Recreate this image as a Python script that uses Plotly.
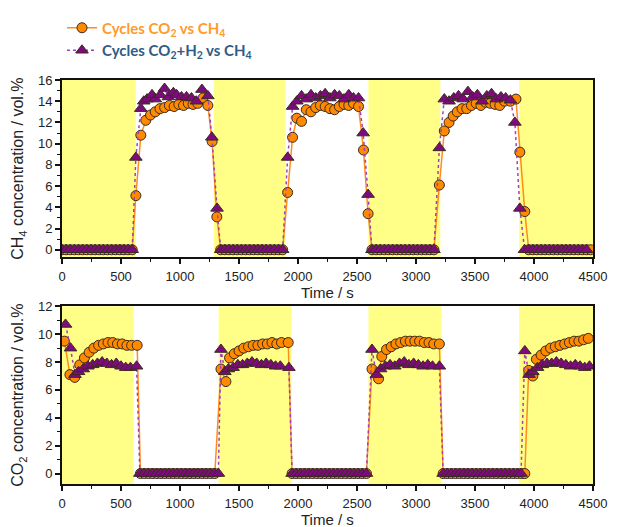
import plotly.graph_objects as go
from plotly.subplots import make_subplots

# ---------------- data ----------------
# CH4 concentration, "Cycles CO2 vs CH4"
ch4_a_t = [0, 35, 70, 105, 140, 175, 210, 245, 280, 315, 350, 385, 420, 455, 490, 525, 560, 595,
           626, 668, 710, 750, 790, 830, 870, 910, 950, 990, 1030, 1070, 1110, 1150, 1195, 1236, 1272, 1312,
           1345, 1380, 1415, 1450, 1485, 1520, 1555, 1590, 1625, 1660, 1695, 1730, 1765, 1800, 1835, 1870,
           1912, 1954, 1990, 2030, 2070, 2110, 2150, 2190, 2230, 2270, 2310, 2350, 2390, 2430, 2470, 2513, 2555, 2594,
           2627, 2662, 2697, 2732, 2767, 2802, 2837, 2872, 2907, 2942, 2977, 3012, 3047, 3082, 3117, 3152,
           3198, 3240, 3280, 3315, 3350, 3390, 3430, 3470, 3510, 3550, 3590, 3630, 3670, 3710, 3750, 3800, 3847, 3880, 3922,
           3955, 3990, 4025, 4060, 4095, 4130, 4165, 4200, 4235, 4270, 4305, 4340, 4375, 4410, 4445, 4480]
ch4_a_v = [0, 0, 0, 0, 0, 0, 0, 0, 0, 0, 0, 0, 0, 0, 0, 0, 0, 0,
           5.1, 10.8, 12.2, 12.7, 13.0, 13.3, 13.4, 13.6, 13.5, 13.7, 13.6, 13.8, 13.7, 13.8, 14.3, 13.6, 10.2, 3.1,
           0, 0, 0, 0, 0, 0, 0, 0, 0, 0, 0, 0, 0, 0, 0, 0,
           5.4, 10.6, 12.4, 12.1, 13.2, 13.0, 13.4, 13.6, 13.5, 13.3, 13.2, 13.5, 13.7, 13.6, 13.8, 13.5, 9.4, 3.4,
           0, 0, 0, 0, 0, 0, 0, 0, 0, 0, 0, 0, 0, 0, 0, 0,
           6.1, 11.2, 12.0, 12.6, 13.0, 13.3, 13.3, 13.6, 13.8, 13.6, 13.9, 13.8, 13.7, 13.6, 14.0, 14.0, 14.2, 9.2, 3.6,
           0, 0, 0, 0, 0, 0, 0, 0, 0, 0, 0, 0, 0, 0, 0, 0]

# CH4 concentration, "Cycles CO2+H2 vs CH4"
ch4_b_t = [0, 35, 70, 105, 140, 175, 210, 245, 280, 315, 350, 385, 420, 455, 490, 525, 560, 595,
           626, 668, 693, 721, 763, 791, 833, 869, 902, 944, 971, 1013, 1055, 1097, 1138, 1186, 1236, 1270, 1314,
           1345, 1380, 1415, 1450, 1485, 1520, 1555, 1590, 1625, 1660, 1695, 1730, 1765, 1800, 1835, 1870,
           1912, 1954, 1990, 2030, 2070, 2110, 2150, 2190, 2230, 2270, 2310, 2350, 2390, 2430, 2470, 2513, 2552, 2594,
           2627, 2662, 2697, 2732, 2767, 2802, 2837, 2872, 2907, 2942, 2977, 3012, 3047, 3082, 3117, 3152,
           3198, 3240, 3280, 3320, 3360, 3400, 3440, 3480, 3520, 3560, 3600, 3640, 3680, 3720, 3760, 3800, 3838, 3880,
           3920, 3955, 3990, 4025, 4060, 4095, 4130, 4165, 4200, 4235, 4270, 4305, 4340, 4375, 4410, 4445]
ch4_b_v = [0, 0, 0, 0, 0, 0, 0, 0, 0, 0, 0, 0, 0, 0, 0, 0, 0, 0,
           8.7, 13.3, 14.0, 14.2, 14.6, 14.2, 14.6, 15.2, 14.4, 14.8, 14.6, 14.4, 14.4, 14.3, 14.0, 15.1, 14.5, 10.6, 3.9,
           0, 0, 0, 0, 0, 0, 0, 0, 0, 0, 0, 0, 0, 0, 0, 0,
           8.7, 13.5, 14.0, 14.5, 14.2, 14.6, 14.3, 14.5, 14.7, 14.3, 14.6, 14.5, 14.2, 14.6, 14.3, 14.3, 11.0, 5.2,
           0, 0, 0, 0, 0, 0, 0, 0, 0, 0, 0, 0, 0, 0, 0, 0,
           9.6, 14.2, 14.0, 14.3, 14.5, 14.2, 14.9, 14.4, 14.6, 14.0, 14.5, 14.7, 14.2, 14.4, 14.3, 14.1, 12.0, 3.9,
           0, 0, 0, 0, 0, 0, 0, 0, 0, 0, 0, 0, 0, 0, 0, 0]

# CO2 concentration, "Cycles CO2 vs CH4"
co2_a_t = [20, 67, 108, 150, 190, 230, 270, 310, 350, 390, 430, 470, 510, 550, 590, 637,
           665, 700, 735, 770, 805, 840, 875, 910, 945, 980, 1015, 1050, 1085, 1120, 1155, 1190, 1225, 1260, 1295,
           1347, 1389, 1420, 1460, 1500, 1540, 1580, 1620, 1660, 1700, 1740, 1780, 1820, 1860, 1917,
           1950, 1985, 2020, 2055, 2090, 2125, 2160, 2195, 2230, 2265, 2300, 2335, 2370, 2405, 2440, 2475, 2510, 2545, 2580,
           2627, 2683, 2710, 2750, 2790, 2830, 2870, 2910, 2950, 2990, 3030, 3070, 3110, 3150, 3198,
           3230, 3265, 3300, 3335, 3370, 3405, 3440, 3475, 3510, 3545, 3580, 3615, 3650, 3685, 3720, 3755, 3790, 3825, 3860, 3895, 3922,
           3955, 3990, 4020, 4060, 4100, 4140, 4180, 4220, 4260, 4300, 4340, 4380, 4420, 4460]
co2_a_v = [9.5, 7.1, 6.9, 7.8, 8.3, 8.7, 9.0, 9.2, 9.3, 9.4, 9.4, 9.3, 9.3, 9.2, 9.2, 9.2,
           0, 0, 0, 0, 0, 0, 0, 0, 0, 0, 0, 0, 0, 0, 0, 0, 0, 0, 0,
           7.5, 6.6, 8.3, 8.6, 8.8, 9.0, 9.1, 9.2, 9.2, 9.3, 9.3, 9.4, 9.3, 9.4, 9.4,
           0, 0, 0, 0, 0, 0, 0, 0, 0, 0, 0, 0, 0, 0, 0, 0, 0, 0, 0,
           7.5, 6.8, 8.4, 8.9, 9.1, 9.3, 9.4, 9.5, 9.5, 9.5, 9.5, 9.4, 9.4, 9.3, 9.3,
           0, 0, 0, 0, 0, 0, 0, 0, 0, 0, 0, 0, 0, 0, 0, 0, 0, 0, 0, 0, 0,
           7.4, 7.0, 8.2, 8.5, 8.8, 9.0, 9.1, 9.2, 9.3, 9.4, 9.5, 9.5, 9.6, 9.7]

# CO2 concentration, "Cycles CO2+H2 vs CH4"
co2_b_t = [30, 72, 110, 140, 180, 220, 260, 300, 340, 380, 420, 460, 500, 540, 580, 632,
           660, 695, 730, 765, 800, 835, 870, 905, 940, 975, 1010, 1045, 1080, 1115, 1150, 1185, 1220, 1255, 1290, 1325,
           1347, 1380, 1410, 1450, 1490, 1530, 1570, 1610, 1650, 1690, 1730, 1770, 1810, 1850, 1923,
           1950, 1985, 2020, 2055, 2090, 2125, 2160, 2195, 2230, 2265, 2300, 2335, 2370, 2405, 2440, 2475, 2510, 2545, 2580,
           2627, 2665, 2700, 2740, 2780, 2820, 2860, 2900, 2940, 2980, 3020, 3060, 3100, 3140, 3198,
           3230, 3265, 3300, 3335, 3370, 3405, 3440, 3475, 3510, 3545, 3580, 3615, 3650, 3685, 3720, 3755, 3790, 3825, 3860, 3890,
           3922, 3958, 3990, 4030, 4070, 4110, 4150, 4190, 4230, 4270, 4310, 4350, 4390, 4430, 4470]
co2_b_v = [10.7, 9.0, 7.1, 7.3, 7.5, 7.7, 7.8, 7.9, 8.0, 7.9, 7.8, 7.9, 7.7, 7.6, 7.6, 7.7,
           0, 0, 0, 0, 0, 0, 0, 0, 0, 0, 0, 0, 0, 0, 0, 0, 0, 0, 0, 0,
           8.9, 7.3, 7.5, 7.6, 7.8, 7.8, 7.9, 8.0, 7.9, 7.8, 7.9, 7.8, 7.7, 7.7, 7.6,
           0, 0, 0, 0, 0, 0, 0, 0, 0, 0, 0, 0, 0, 0, 0, 0, 0, 0, 0,
           8.9, 7.1, 7.5, 7.7, 7.8, 7.7, 7.9, 8.0, 7.8, 7.9, 7.8, 7.7, 7.8, 7.7, 7.7,
           0, 0, 0, 0, 0, 0, 0, 0, 0, 0, 0, 0, 0, 0, 0, 0, 0, 0, 0, 0,
           8.8, 7.1, 7.3, 7.6, 7.8, 7.9, 7.9, 8.0, 7.9, 7.8, 7.7, 7.8, 7.7, 7.6, 7.7]

# shaded (yellow) time windows
ch4_bands = [(0, 626), (1286, 1896), (2596, 3206), (3874, 4500)]
co2_bands = [(0, 608), (1327, 1945), (2597, 3214), (3874, 4500)]

x_ticks = [0, 500, 1000, 1500, 2000, 2500, 3000, 3500, 4000, 4500]
ch4_ticks = [0, 2, 4, 6, 8, 10, 12, 14, 16]
co2_ticks = [0, 2, 4, 6, 8, 10, 12]

name_a = '<span style="color:#FF9A2E"><b>Cycles CO<sub>2</sub> vs CH<sub>4</sub></b></span>'
name_b = '<span style="color:#2F5C88"><b>Cycles CO<sub>2</sub>+H<sub>2</sub> vs CH<sub>4</sub></b></span>'
x_title = "Time / s"
ch4_title = "CH<sub>4</sub> concentration / vol.%"
co2_title = "CO<sub>2</sub> concentration / vol.%"

for a, b in [(ch4_a_t, ch4_a_v), (ch4_b_t, ch4_b_v), (co2_a_t, co2_a_v), (co2_b_t, co2_b_v)]:
    assert len(a) == len(b), (len(a), len(b))

# ---------------- figure ----------------
W, H = 619, 527
ML, MR, MT, MB = 62, 18, 77, 43
ph = H - MT - MB

fig = make_subplots(rows=2, cols=1, shared_xaxes=False)

orange_line = "#FF8C1A"
orange_fill = "#FF8A00"
purple_line = "#A040B8"
purple_fill = "#7E0A7E"
edge = "#3A2A20"

def add_pair(ta, va, tb, vb, row, show):
    fig.add_trace(go.Scatter(
        x=ta, y=va, mode="lines+markers", name=name_a, showlegend=show, legendgroup="a",
        line=dict(color=orange_line, width=1.5),
        marker=dict(symbol="circle", size=10, color=orange_fill, line=dict(color=edge, width=1)),
    ), row=row, col=1)
    fig.add_trace(go.Scatter(
        x=tb, y=vb, mode="lines+markers", name=name_b, showlegend=show, legendgroup="b",
        line=dict(color=purple_line, width=1.5, dash="dot"),
        marker=dict(symbol="triangle-up", size=11, color=purple_fill, line=dict(color=edge, width=1)),
    ), row=row, col=1)

add_pair(ch4_a_t, ch4_a_v, ch4_b_t, ch4_b_v, 1, True)
add_pair(co2_a_t, co2_a_v, co2_b_t, co2_b_v, 2, False)

for (x0, x1) in ch4_bands:
    fig.add_shape(type="rect", xref="x", yref="y domain", x0=x0, x1=x1, y0=0, y1=1,
                  fillcolor="#FFFF88", line=dict(width=0), layer="below")
for (x0, x1) in co2_bands:
    fig.add_shape(type="rect", xref="x2", yref="y2 domain", x0=x0, x1=x1, y0=0, y1=1,
                  fillcolor="#FFFF88", line=dict(width=0), layer="below")

top_d = [(H - MB - 255.5) / ph, 1.0]
bot_d = [0.0, (H - MB - 305) / ph]

tickfont = dict(family="Liberation Sans", size=13, color="#222")
titlefont = dict(family="Liberation Sans", size=16, color="#222")
xtitlefont = dict(family="Liberation Sans", size=15, color="#222")

common_x = dict(range=[0, 4500], tickvals=x_ticks, showline=True, linecolor="#111", linewidth=1.8,
                mirror=True, ticks="outside", ticklen=5, tickwidth=1.5, tickcolor="#111",
                minor=dict(dtick=250, tick0=0, ticks="outside", ticklen=3, tickwidth=1.2, tickcolor="#111"),
                showgrid=False, zeroline=False, tickfont=tickfont, ticklabelstandoff=1)
common_y = dict(showline=True, linecolor="#111", linewidth=1.8, mirror=True, ticks="outside",
                ticklen=5, tickwidth=1.5, tickcolor="#111", showgrid=False, zeroline=False,
                tickfont=tickfont)

fig.update_layout(
    width=W, height=H, margin=dict(l=ML, r=MR, t=MT, b=MB),
    paper_bgcolor="white", plot_bgcolor="white",
    font=dict(family="Liberation Sans", color="#222"),
    xaxis=dict(**common_x, anchor="y"),
    xaxis2=dict(**common_x, anchor="y2"),
    yaxis=dict(**common_y, domain=top_d, range=[-0.7, 16], tickvals=ch4_ticks,
               minor=dict(dtick=1, tick0=0, ticks="outside", ticklen=3, tickwidth=1.2, tickcolor="#111"),
               title=dict(text=ch4_title, font=titlefont, standoff=10)),
    yaxis2=dict(**common_y, domain=bot_d, range=[-0.75, 12], tickvals=co2_ticks,
                minor=dict(dtick=1, tick0=0, ticks="outside", ticklen=3, tickwidth=1.2, tickcolor="#111"),
                title=dict(text=co2_title, font=titlefont, standoff=10)),
    legend=dict(x=0.0, y=1 + (MT - 8) / ph, xanchor="left", yanchor="top",
                bgcolor="rgba(0,0,0,0)", font=dict(family="Lato", size=15),
                tracegroupgap=0, itemwidth=30),
    showlegend=True,
)

# x-axis titles placed just beneath the tick labels
fig.add_annotation(text=x_title, xref="x domain", yref="y domain", x=0.5, y=0, yshift=-35,
                   showarrow=False, font=xtitlefont, yanchor="middle")
fig.add_annotation(text=x_title, xref="x2 domain", yref="y2 domain", x=0.5, y=0, yshift=-35,
                   showarrow=False, font=xtitlefont, yanchor="middle")

fig.write_html("out.html")
